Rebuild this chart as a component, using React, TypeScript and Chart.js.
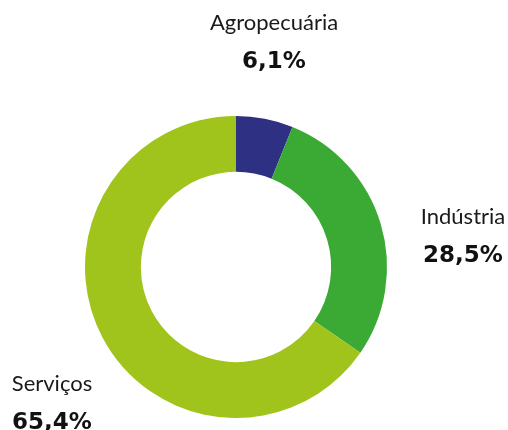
import React, { useEffect, useRef } from "react";
import { Chart, registerables } from "chart.js";

Chart.register(...registerables);

const categories = ["Agropecuária", "Indústria", "Serviços"];
const values = [6.1, 28.5, 65.4];
const valueLabels = ["6,1%", "28,5%", "65,4%"];
const colors = ["#2E3083", "#3AAA35", "#A1C41D"];

const labelPos = [
  { cx: 274, top: 8 },
  { cx: 463, top: 202 },
  { cx: 52, top: 369 },
];

export default function App() {
  const ref = useRef<HTMLCanvasElement>(null);
  useEffect(() => {
    document.body.style.margin = "0";
    const chart = new Chart(ref.current!, {
      type: "doughnut",
      data: {
        labels: categories,
        datasets: [
          {
            data: values,
            backgroundColor: colors,
            borderWidth: 0,
          },
        ],
      },
      options: {
        animation: false,
        responsive: false,
        cutout: "63%",
        layout: { padding: { top: 116, bottom: 12, left: 85, right: 121 } },
        plugins: { legend: { display: false }, tooltip: { enabled: false } },
      },
    });
    return () => chart.destroy();
  }, []);
  return (
    <div style={{ position: "fixed", left: 0, top: 0, width: 508, height: 430, background: "#fff" }}>
      <canvas ref={ref} width={508} height={430} style={{ position: "absolute", left: 0, top: 0 }} />
      {categories.map((c, i) => (
        <div
          key={c}
          style={{
            position: "absolute",
            left: labelPos[i].cx - 100,
            top: labelPos[i].top,
            width: 200,
            textAlign: "center",
            color: "#1a1a1a",
          }}
        >
          <div style={{ fontFamily: "Lato, 'Noto Sans', sans-serif", fontSize: 22, lineHeight: "28px" }}>{c}</div>
          <div
            style={{
              fontFamily: "'DejaVu Sans', sans-serif",
              fontSize: 23,
              fontWeight: 700,
              lineHeight: "34px",
              marginTop: 7,
              color: "#111",
            }}
          >
            {valueLabels[i]}
          </div>
        </div>
      ))}
    </div>
  );
}
